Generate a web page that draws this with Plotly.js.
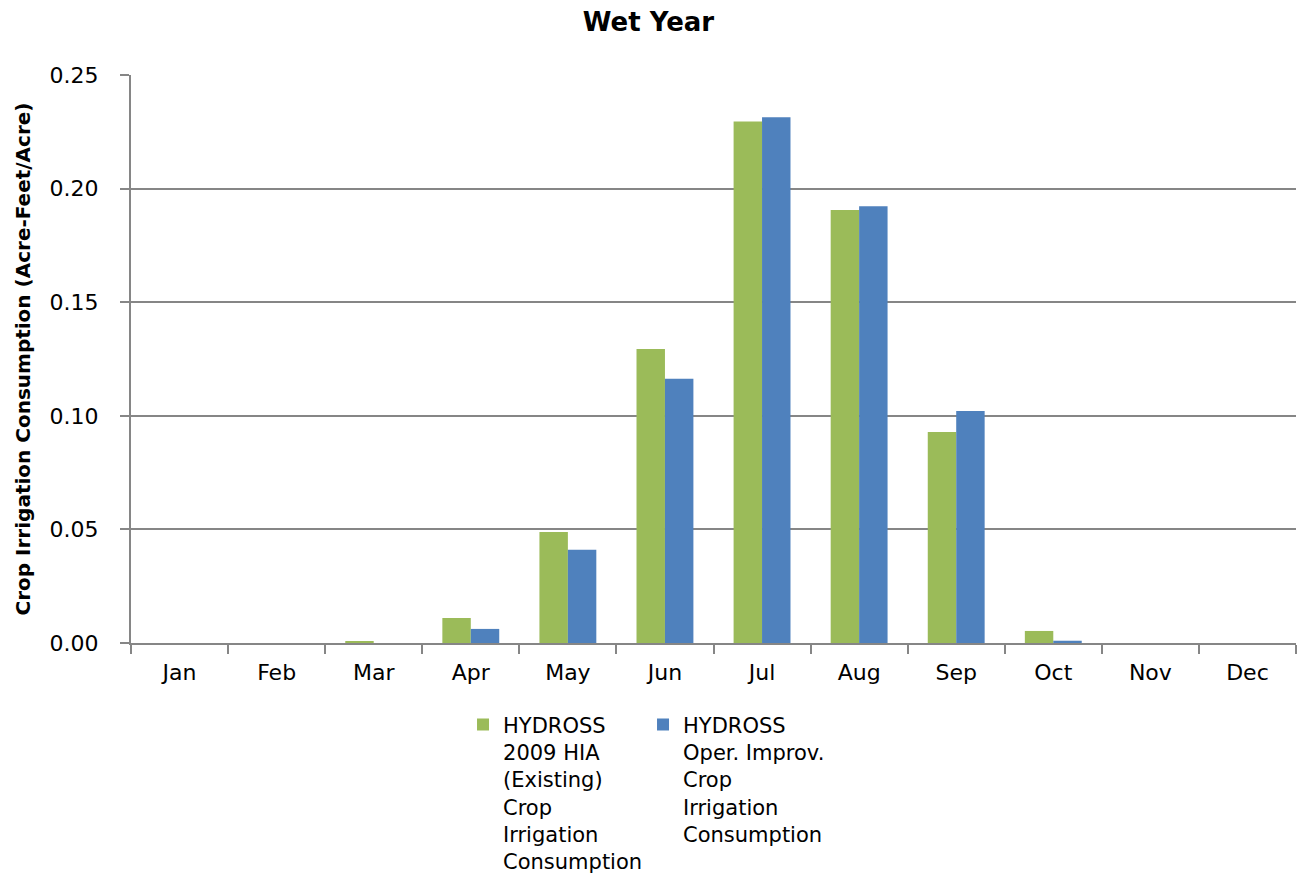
<!DOCTYPE html>
<html>
<head>
<meta charset="utf-8">
<script src="https://cdn.plot.ly/plotly-3.0.1.min.js"></script>
<style>body{margin:0;background:#fff;}#chart{width:1297px;height:884px;}</style>
</head>
<body>
<div id="chart"></div>
<script>
const months = ["Jan","Feb","Mar","Apr","May","Jun","Jul","Aug","Sep","Oct","Nov","Dec"];
const existingName = "HYDROSS<br>2009 HIA<br>(Existing)<br>Crop<br>Irrigation<br>Consumption";
const improvName = "HYDROSS<br>Oper. Improv.<br>Crop<br>Irrigation<br>Consumption";
const existingValues = [0, 0, 0.0006, 0.0110, 0.0489, 0.1294, 0.2295, 0.1906, 0.0929, 0.0053, 0, 0];
const improvValues = [0, 0, 0, 0.0062, 0.0410, 0.1163, 0.2314, 0.1922, 0.1021, 0.0010, 0, 0];
const yTicks = [0, 0.05, 0.10, 0.15, 0.20, 0.25];
const yTickText = ["0.00","0.05","0.10","0.15","0.20","0.25"];

const font = "'DejaVu Sans', sans-serif";
const data = [
  {type:"bar", x:months, y:existingValues, name:existingName, marker:{color:"#9BBB59", line:{width:0}}},
  {type:"bar", x:months, y:improvValues, name:improvName, marker:{color:"#4F81BD", line:{width:0}}}
];
const layout = {
  width:1297, height:884,
  margin:{l:131, r:1, t:75, b:241, autoexpand:false},
  paper_bgcolor:"#fff", plot_bgcolor:"#fff",
  font:{family:font, size:21, color:"#000"},
  title:{text:"<b>Wet Year</b>", font:{family:font, size:26, color:"#000"}, x:0.5, xanchor:"center", y:0.975, yanchor:"middle"},
  bargap:0.414, bargroupgap:0,
  xaxis:{type:"category", showline:true, linecolor:"#868686", linewidth:2, ticks:"outside", tickson:"boundaries", ticklen:9, tickcolor:"#868686", tickwidth:2, showgrid:false, tickfont:{size:22}, zeroline:false, ticklabelstandoff:9},
  yaxis:{range:[0,0.25], tickvals:yTicks, ticktext:yTickText, showline:true, linecolor:"#868686", linewidth:2, ticks:"outside", ticklen:9, tickcolor:"#868686", tickwidth:2, showgrid:true, gridcolor:"#868686", gridwidth:1.5, zeroline:false, tickfont:{size:22}, ticklabelstandoff:17,
    title:{text:"<b>Crop Irrigation Consumption (Acre-Feet/Acre)</b>", font:{size:20}, standoff:14}},
  legend:{orientation:"h", x:0.285, xanchor:"left", y:-0.108, yanchor:"top", valign:"top", font:{size:21}, entrywidth:135, tracegroupgap:0, itemwidth:30}
};
Plotly.newPlot("chart", data, layout, {displayModeBar:false});
</script>
</body>
</html>
